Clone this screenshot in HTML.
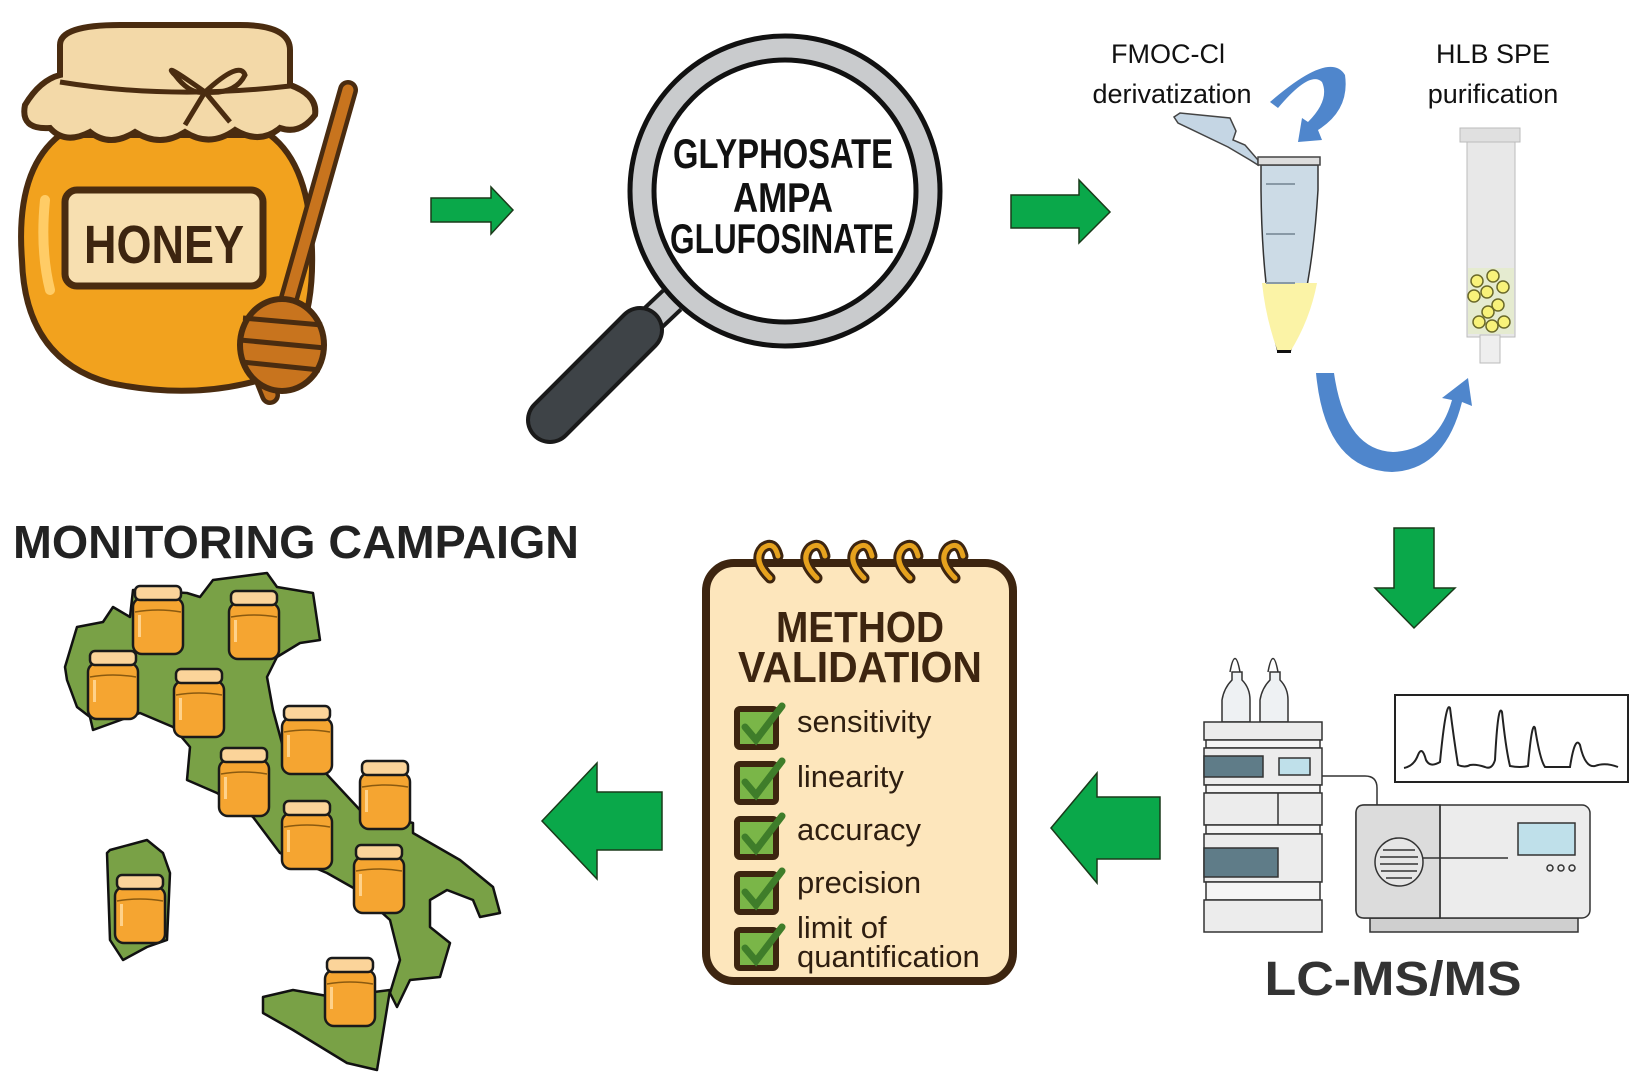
<!DOCTYPE html>
<html><head><meta charset="utf-8"><style>
html,body{margin:0;padding:0;background:#fff;}
svg{display:block;}
text{font-family:"Liberation Sans",sans-serif;}
</style></head><body>
<svg width="1643" height="1088" viewBox="0 0 1643 1088" xmlns="http://www.w3.org/2000/svg">
<defs>
<g id="jar">
<rect x="2" y="14" width="50" height="56" rx="9" fill="#f5a531" stroke="#1a1a1a" stroke-width="2.5"/>
<path d="M4 28 Q27 24 50 28" fill="none" stroke="#8a5a10" stroke-width="1.5"/>
<rect x="7" y="31" width="3" height="22" fill="#ffd28a"/>
<rect x="4" y="2" width="46" height="14" rx="5" fill="#fbd49a" stroke="#1a1a1a" stroke-width="2.5"/>
</g>
</defs>

<!-- Honey jar -->
<g>
<path d="M60 135 Q15 170 22 260 Q25 360 110 383 Q190 400 260 380 Q315 350 312 250 Q310 165 270 135 Z" fill="#f2a21e" stroke="#4a2c10" stroke-width="6"/>
<path d="M45 200 Q40 250 50 290" stroke="#ffcc66" stroke-width="10" fill="none" stroke-linecap="round"/>
<path d="M25 105 Q40 80 60 75 L60 45 Q60 25 120 25 L240 25 Q290 25 290 50 L290 85 Q318 95 315 115 Q300 135 280 128 Q260 145 235 130 Q210 148 185 132 Q160 148 135 132 Q110 148 90 132 Q65 145 50 128 Q20 130 25 105 Z" fill="#f3d9a8" stroke="#4a2c10" stroke-width="6"/>
<path d="M60 82 Q170 100 290 86" stroke="#4a2c10" stroke-width="5" fill="none"/>
<path d="M205 92 Q160 60 175 75 Q190 95 205 92 Q240 60 245 75 Q235 95 205 92 L185 125 M205 92 L230 122" stroke="#4a2c10" stroke-width="5" fill="none"/>
<rect x="65" y="190" width="198" height="96" rx="12" fill="#f7dfb0" stroke="#4a2c10" stroke-width="7"/>
<text x="164" y="263" font-size="54" font-weight="bold" fill="#3d2510" text-anchor="middle" textLength="160" lengthAdjust="spacingAndGlyphs">HONEY</text>
<line x1="348" y1="90" x2="280" y2="330" stroke="#4a2c10" stroke-width="20" stroke-linecap="round"/>
<line x1="348" y1="90" x2="280" y2="330" stroke="#c8741e" stroke-width="11" stroke-linecap="round"/>
<path d="M270 395 L262 375" stroke="#4a2c10" stroke-width="20" stroke-linecap="round"/>
<path d="M270 395 L262 375" stroke="#c8741e" stroke-width="11" stroke-linecap="round"/>
<ellipse cx="282" cy="345" rx="42" ry="46" fill="#c8741e" stroke="#4a2c10" stroke-width="6"/>
<path d="M243 318 L322 325 M240 340 L325 348 M242 362 L320 370" stroke="#4a2c10" stroke-width="5"/>
</g>

<!-- Arrow 1 -->
<path d="M431 198 L491 198 L491 187 L513 210 L491 234 L491 222 L431 222 Z" fill="#0aa84a" stroke="#1a3a1a" stroke-width="1.5"/>

<!-- Magnifier -->
<line x1="672" y1="300" x2="635" y2="335" stroke="#1a1a1a" stroke-width="30"/>
<line x1="672" y1="300" x2="635" y2="335" stroke="#c9cbcd" stroke-width="22"/>
<line x1="640" y1="330" x2="550" y2="420" stroke="#1a1a1a" stroke-width="48" stroke-linecap="round"/>
<line x1="640" y1="330" x2="550" y2="420" stroke="#3e4347" stroke-width="40" stroke-linecap="round"/>
<circle cx="785" cy="191" r="155" fill="#c9cbcd" stroke="#111" stroke-width="5"/>
<circle cx="785" cy="191" r="131" fill="#fff" stroke="#111" stroke-width="5"/>
<g font-weight="bold" fill="#111" text-anchor="middle" font-size="42">
<text x="783" y="168" textLength="220" lengthAdjust="spacingAndGlyphs">GLYPHOSATE</text>
<text x="783" y="212" textLength="100" lengthAdjust="spacingAndGlyphs">AMPA</text>
<text x="782" y="253" textLength="224" lengthAdjust="spacingAndGlyphs">GLUFOSINATE</text>
</g>

<!-- Arrow 2 -->
<path d="M1011 195 L1079 195 L1079 180 L1110 212 L1079 243 L1079 228 L1011 228 Z" fill="#0aa84a" stroke="#1a3a1a" stroke-width="1.5"/>

<!-- Texts top right -->
<g font-size="27" fill="#111" text-anchor="middle">
<text x="1168" y="63">FMOC-Cl</text>
<text x="1172" y="103">derivatization</text>
<text x="1493" y="63">HLB SPE</text>
<text x="1493" y="103">purification</text>
</g>

<!-- Tube -->
<path d="M1174 117 L1180 113 L1230 118 L1236 131 L1233 140 L1245 145 L1258 160 L1258 165 L1250 160 L1228 147 L1178 123 Z" fill="#c5d6e4" stroke="#444" stroke-width="1.5"/>
<path d="M1261 165 L1318 165 L1318 190 Q1312 290 1290 352 L1278 352 Q1262 290 1261 190 Z" fill="#ccdbe6" stroke="#333" stroke-width="1.5"/>
<path d="M1262 283 L1317 283 Q1310 320 1290 352 L1278 352 Q1266 320 1262 283 Z" fill="#fbf3a6"/>
<rect x="1277" y="350" width="14" height="3" fill="#111"/>
<rect x="1258" y="157" width="62" height="8" fill="#ddd" stroke="#444" stroke-width="1.5"/>
<line x1="1266" y1="184" x2="1295" y2="184" stroke="#8899a6" stroke-width="2"/>
<line x1="1266" y1="234" x2="1295" y2="234" stroke="#8899a6" stroke-width="2"/>
<line x1="1266" y1="283" x2="1295" y2="283" stroke="#8899a6" stroke-width="2"/>

<!-- Curl arrow top -->
<path d="M1270 102 Q1330 50 1345 75 Q1350 110 1318 130 L1322 140 L1298 142 L1302 118 L1308 122 Q1330 100 1322 82 Q1310 70 1278 108 Z" fill="#4f86cc"/>

<!-- Column -->
<rect x="1467" y="142" width="48" height="195" fill="#e8e8e8" stroke="#bbb" stroke-width="1"/>
<rect x="1460" y="128" width="60" height="14" fill="#e0e0e0" stroke="#bbb"/>
<rect x="1480" y="335" width="20" height="28" fill="#eee" stroke="#bbb"/>
<rect x="1468" y="268" width="46" height="66" fill="#e5ebd0"/>
<g fill="#f8f27a" stroke="#6b6a2a" stroke-width="1.5">
<circle cx="1477" cy="281" r="6"/><circle cx="1493" cy="276" r="6"/><circle cx="1503" cy="287" r="6"/>
<circle cx="1487" cy="292" r="6"/><circle cx="1474" cy="296" r="6"/><circle cx="1498" cy="305" r="6"/>
<circle cx="1488" cy="312" r="6"/><circle cx="1479" cy="322" r="6"/><circle cx="1492" cy="326" r="6"/><circle cx="1504" cy="322" r="6"/>
</g>

<!-- bottom blue arc -->
<path d="M1316 373 L1334 373 Q1345 450 1393 452 Q1438 450 1452 400 L1442 398 L1468 378 L1472 406 L1462 402 Q1445 470 1392 472 Q1325 470 1316 373 Z" fill="#4f86cc"/>

<!-- Down arrow -->
<path d="M1394 528 L1434 528 L1434 588 L1455 588 L1414 628 L1375 588 L1394 588 Z" fill="#0aa84a" stroke="#1a3a1a" stroke-width="1.5"/>

<!-- LC -->
<g stroke="#333" stroke-width="1.5">
<path d="M1230 672 Q1235 645 1240 672 L1240 722 M1268 672 Q1273 645 1278 672 L1278 722" fill="none"/>
<path d="M1222 722 L1222 700 Q1224 688 1232 680 L1232 672 L1242 672 L1242 680 Q1250 688 1250 700 L1250 722 Z" fill="#eef1f3"/>
<path d="M1260 722 L1260 700 Q1262 688 1270 680 L1270 672 L1280 672 L1280 680 Q1288 688 1288 700 L1288 722 Z" fill="#eef1f3"/>
<rect x="1204" y="722" width="118" height="18" fill="#ececec"/>
<rect x="1206" y="740" width="114" height="8" fill="#f4f4f4"/>
<rect x="1204" y="748" width="118" height="37" fill="#ececec"/>
<rect x="1204" y="756" width="59" height="21" fill="#5f7c88"/>
<rect x="1279" y="758" width="31" height="17" fill="#bfe0ea"/>
<rect x="1206" y="785" width="114" height="8" fill="#f4f4f4"/>
<rect x="1204" y="793" width="118" height="32" fill="#ececec"/>
<line x1="1278" y1="793" x2="1278" y2="825"/>
<rect x="1206" y="825" width="114" height="9" fill="#f4f4f4"/>
<rect x="1204" y="834" width="118" height="48" fill="#ececec"/>
<rect x="1204" y="848" width="74" height="29" fill="#5f7c88"/>
<rect x="1206" y="882" width="114" height="18" fill="#f4f4f4"/>
<rect x="1204" y="900" width="118" height="32" fill="#ececec"/>
<path d="M1322 776 L1365 776 Q1377 776 1377 788 L1377 805" fill="none"/>
<rect x="1370" y="918" width="208" height="14" fill="#cfcfcf"/>
<rect x="1356" y="805" width="234" height="113" rx="8" fill="#ececec"/>
<path d="M1440 805 L1364 805 Q1356 805 1356 813 L1356 910 Q1356 918 1364 918 L1440 918 Z" fill="#dcdcdc"/>
<line x1="1440" y1="805" x2="1440" y2="918"/>
<circle cx="1399" cy="862" r="24" fill="#e6e6e6"/>
<path d="M1383 850 L1415 850 M1380 857 L1418 857 M1380 864 L1418 864 M1381 871 L1417 871 M1386 878 L1412 878"/>
<line x1="1423" y1="858" x2="1508" y2="858"/>
<rect x="1518" y="823" width="57" height="32" fill="#bfe0ea"/>
<circle cx="1550" cy="868" r="3" fill="none"/><circle cx="1561" cy="868" r="3" fill="none"/><circle cx="1572" cy="868" r="3" fill="none"/>
</g>
<rect x="1395" y="695" width="233" height="87" fill="#fff" stroke="#222" stroke-width="2"/>
<path d="M1404 768 Q1414 766 1418 755 Q1422 745 1426 760 Q1430 768 1440 762 Q1446 700 1450 708 Q1454 740 1458 765 Q1465 768 1470 765 Q1476 764 1485 767 Q1492 770 1495 760 Q1498 702 1502 712 Q1506 750 1510 766 Q1520 768 1528 766 Q1532 720 1535 728 Q1540 760 1545 767 L1570 767 Q1575 735 1580 745 Q1585 768 1595 766 Q1605 762 1618 767" fill="none" stroke="#222" stroke-width="2"/>
<text x="1393" y="995" font-size="48" font-weight="bold" fill="#333" text-anchor="middle" textLength="257" lengthAdjust="spacingAndGlyphs">LC-MS/MS</text>

<!-- Left arrows -->
<path d="M1160 797 L1097 797 L1097 773 L1051 828 L1097 883 L1097 859 L1160 859 Z" fill="#0aa84a" stroke="#1a3a1a" stroke-width="1.5"/>
<path d="M662 792 L597 792 L597 763 L542 821 L597 879 L597 850 L662 850 Z" fill="#0aa84a" stroke="#1a3a1a" stroke-width="1.5"/>

<!-- Notepad -->
<rect x="706" y="563" width="307" height="418" rx="28" fill="#fde6bc" stroke="#3d2510" stroke-width="8"/>
<g fill="none" stroke-linecap="round">
<g stroke="#3d2510" stroke-width="11">
<path d="M770 578 Q752 560 763 548 Q774 540 778 556"/><path d="M817 578 Q799 560 810 548 Q821 540 825 556"/><path d="M864 578 Q846 560 857 548 Q868 540 872 556"/><path d="M910 578 Q892 560 903 548 Q914 540 918 556"/><path d="M955 578 Q937 560 948 548 Q959 540 963 556"/>
</g>
<g stroke="#e6a21e" stroke-width="5">
<path d="M770 578 Q752 560 763 548 Q774 540 778 556"/><path d="M817 578 Q799 560 810 548 Q821 540 825 556"/><path d="M864 578 Q846 560 857 548 Q868 540 872 556"/><path d="M910 578 Q892 560 903 548 Q914 540 918 556"/><path d="M955 578 Q937 560 948 548 Q959 540 963 556"/>
</g>
</g>
<g fill="#3d2510" font-weight="bold" text-anchor="middle" font-size="44">
<text x="860" y="642" textLength="168" lengthAdjust="spacingAndGlyphs">METHOD</text>
<text x="860" y="682" textLength="244" lengthAdjust="spacingAndGlyphs">VALIDATION</text>
</g>
<g>
<g id="cb"><rect x="737" y="709" width="39" height="38" rx="3" fill="#7ab648" stroke="#3d2510" stroke-width="6"/><path d="M745 727 L756 740 L782 706" fill="none" stroke="#3f7d2a" stroke-width="7" stroke-linecap="round"/></g>
<use href="#cb" y="55"/><use href="#cb" y="110"/><use href="#cb" y="165"/><use href="#cb" y="221"/>
</g>
<g font-size="31" fill="#2e1e10">
<text x="797" y="732">sensitivity</text>
<text x="797" y="787">linearity</text>
<text x="797" y="840">accuracy</text>
<text x="797" y="893">precision</text>
<text x="797" y="938">limit of</text>
<text x="797" y="967">quantification</text>
</g>

<!-- Monitoring -->
<text x="13" y="558" font-size="46" font-weight="bold" fill="#222" textLength="566" lengthAdjust="spacingAndGlyphs">MONITORING CAMPAIGN</text>

<!-- Italy -->
<g fill="#79a146" stroke="#111" stroke-width="2.5" stroke-linejoin="round">
<path d="M65 667 L77 627 L103 622 L113 607 L130 617 L133 590 L187 593 L200 597 L213 580 L267 573 L277 587 L313 593 L320 640 L300 643 L277 657 L267 677 L273 710 L283 747 L320 767 L360 810 L413 823 L413 833 L460 860 L493 887 L500 913 L480 917 L473 900 L447 890 L430 900 L430 927 L450 943 L440 977 L410 980 L397 1007 L390 993 L400 960 L390 920 L357 890 L327 873 L280 853 L253 817 L217 793 L187 780 L190 747 L173 727 L140 713 L93 730 L90 717 L77 707 L67 680 Z"/>
<path d="M110 850 L147 840 L163 853 L170 873 L167 940 L147 947 L123 960 L110 940 L107 853 Z"/>
<path d="M263 997 L293 990 L333 997 L390 990 L383 1033 L377 1070 L347 1063 L293 1030 L263 1013 Z"/>
</g>
<use href="#jar" x="131" y="584"/>
<use href="#jar" x="227" y="589"/>
<use href="#jar" x="86" y="649"/>
<use href="#jar" x="172" y="667"/>
<use href="#jar" x="280" y="704"/>
<use href="#jar" x="217" y="746"/>
<use href="#jar" x="358" y="759"/>
<use href="#jar" x="280" y="799"/>
<use href="#jar" x="352" y="843"/>
<use href="#jar" x="113" y="873"/>
<use href="#jar" x="323" y="956"/>
</svg>
</body></html>
